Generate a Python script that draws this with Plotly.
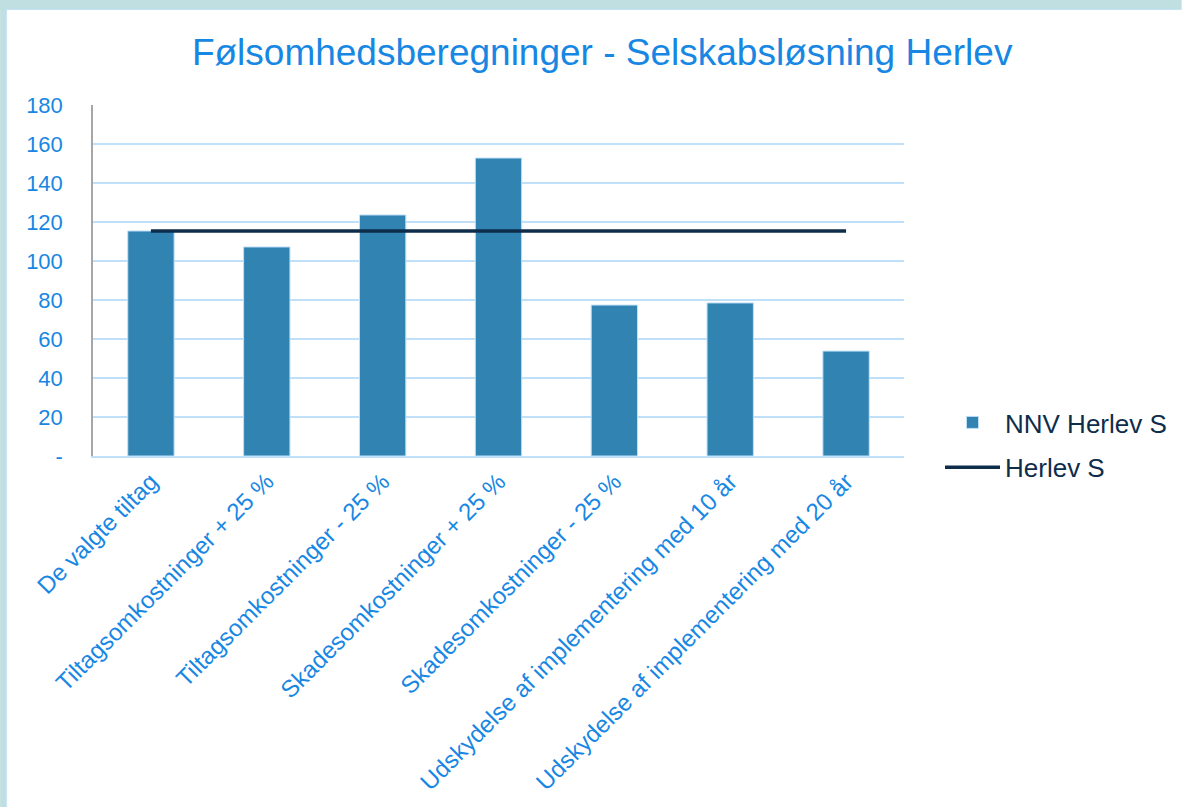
import plotly.graph_objects as go

categories = [
    "De valgte tiltag",
    "Tiltagsomkostninger + 25 %",
    "Tiltagsomkostninger - 25 %",
    "Skadesomkostninger + 25 %",
    "Skadesomkostninger - 25 %",
    "Udskydelse af implementering med 10 år",
    "Udskydelse af implementering med 20 år",
]
nnv_values = [115.4, 107.2, 123.6, 152.8, 77.4, 78.5, 53.8]
herlev_values = [115.4, 115.4, 115.4, 115.4, 115.4, 115.4, 115.4]
y_tickvals = [0, 20, 40, 60, 80, 100, 120, 140, 160, 180]
y_ticktext = ["-", "20", "40", "60", "80", "100", "120", "140", "160", "180"]

W, H = 1183, 807
L, R, T, B = 93, 905, 105, 456  # plot area px

BLUE_TXT = "#1787e3"
NAVY = "#0e2d4b"
GRID = "#bfe0f8"
TEAL = "#c0dfe0"

fig = go.Figure()
fig.add_trace(go.Bar(
    x=categories, y=nnv_values, name="NNV Herlev S", legendgroup="a",
    marker=dict(color="#3183b2", line=dict(color=GRID, width=1)),
    width=0.4,
))
fig.add_trace(go.Scatter(
    x=categories, y=herlev_values, name="Herlev S", mode="lines", legendgroup="b",
    line=dict(color=NAVY, width=3.5),
))

def px2x(px):
    return (px - L) / (R - L)

def py2y(py):
    return (B - py) / (B - T)

shapes = [
    dict(type="rect", xref="paper", yref="paper", x0=px2x(0), x1=px2x(W), y0=py2y(9), y1=py2y(0),
         fillcolor=TEAL, line=dict(width=0), layer="above"),
    dict(type="rect", xref="paper", yref="paper", x0=px2x(0), x1=px2x(W), y0=py2y(10), y1=py2y(9),
         fillcolor="#c5e3f8", line=dict(width=0), layer="above"),
    dict(type="rect", xref="paper", yref="paper", x0=px2x(0), x1=px2x(6), y0=py2y(H), y1=py2y(0),
         fillcolor=TEAL, line=dict(width=0), layer="above"),
    dict(type="rect", xref="paper", yref="paper", x0=px2x(6), x1=px2x(7), y0=py2y(H), y1=py2y(9),
         fillcolor="#c5e3f8", line=dict(width=0), layer="above"),
]

fig.update_layout(
    width=W, height=H,
    margin=dict(l=L, r=W - R, t=T, b=H - B, pad=0),
    paper_bgcolor="white", plot_bgcolor="white",
    font=dict(family="Liberation Sans, Arial, sans-serif", color=BLUE_TXT),
    title=dict(text="Følsomhedsberegninger - Selskabsløsning Herlev",
               x=0.509, xref="container", xanchor="center",
               y=1 - 52 / H, yref="container", yanchor="middle",
               font=dict(size=37, color=BLUE_TXT)),
    bargap=0.6,
    showlegend=True,
    legend=dict(x=px2x(940), y=py2y(399), xanchor="left", yanchor="top",
                font=dict(size=26, color=NAVY), itemwidth=55,
                traceorder="grouped", tracegroupgap=8, bgcolor="rgba(0,0,0,0)"),
    shapes=shapes,
)
fig.update_xaxes(
    tickangle=-45, tickfont=dict(size=24, color=BLUE_TXT),
    showgrid=False, showline=True, linecolor=GRID, linewidth=2,
    ticks="", automargin=False,
)
fig.update_yaxes(
    range=[0, 180], tickvals=y_tickvals, ticktext=y_ticktext,
    tickfont=dict(size=22, color=BLUE_TXT),
    showgrid=True, gridcolor=GRID, gridwidth=2,
    zeroline=False, showline=True, linecolor="#a6a6a6", linewidth=1.5,
    ticks="outside", ticklen=24, tickcolor="rgba(0,0,0,0)", automargin=False,
)

fig.write_html("out.html", config={"displayModeBar": False},
               post_script="document.body.style.margin='0';")
